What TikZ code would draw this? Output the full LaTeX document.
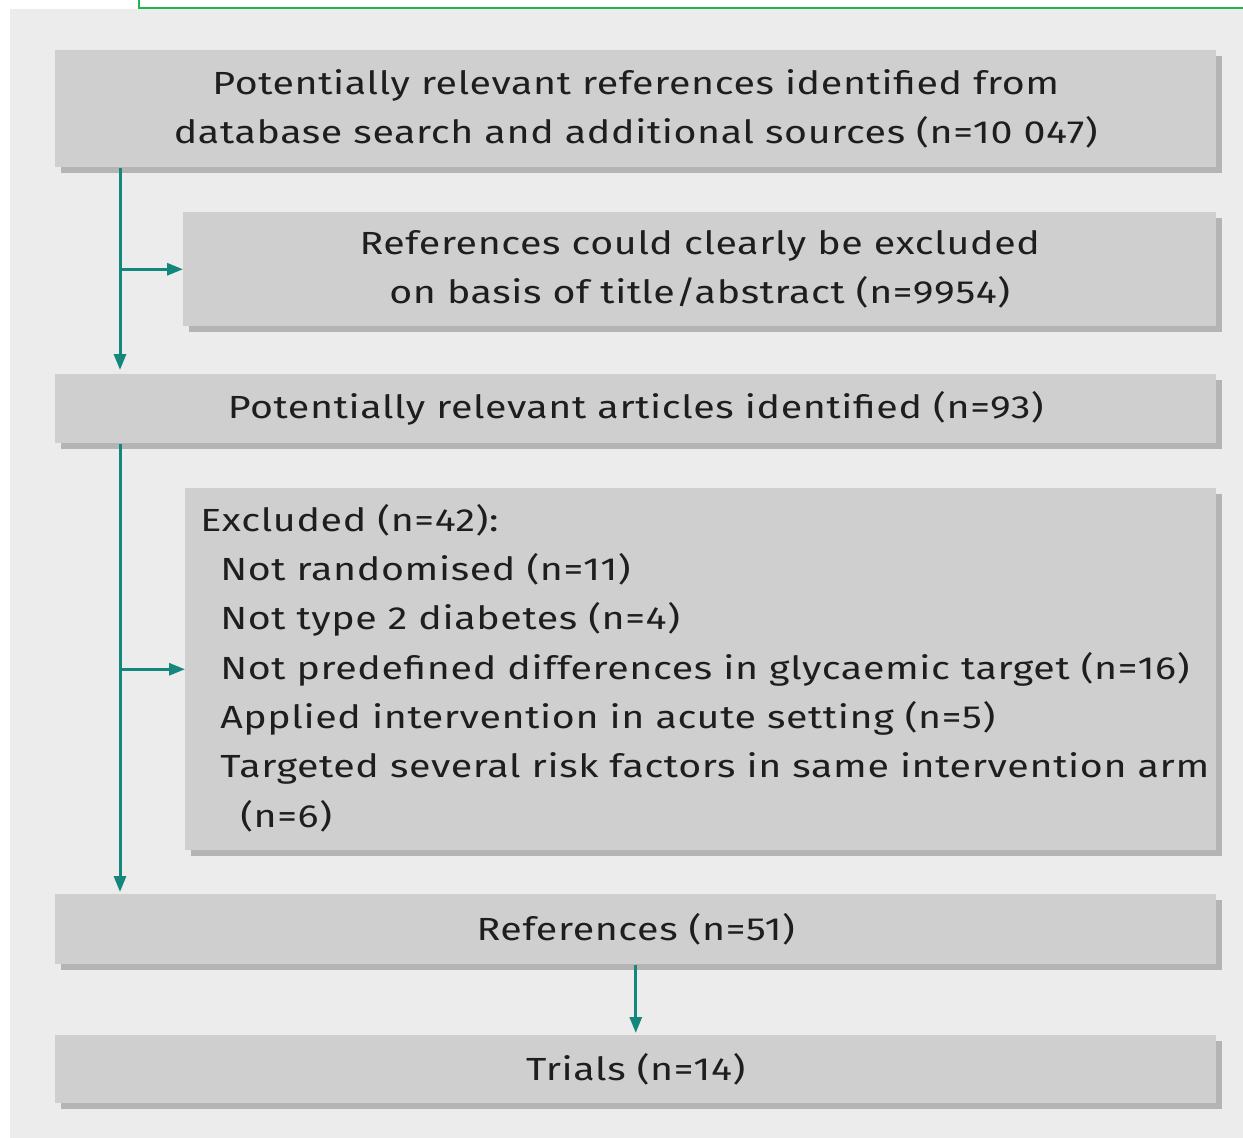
\documentclass[tikz,border=0pt]{standalone}
\usepackage{fontspec}
\setmainfont[FakeStretch=1.23,LetterSpace=2]{Fira Sans}
\usetikzlibrary{arrows.meta,shadows}
\definecolor{panel}{HTML}{ECECEC}
\definecolor{boxgray}{HTML}{CFCFCF}
\definecolor{shadowgray}{HTML}{B4B4B4}
\definecolor{tealc}{RGB}{20,135,125}
\definecolor{greenline}{RGB}{30,180,80}
\definecolor{txt}{HTML}{1E1E1E}
\tikzset{
  box/.style={draw=none, fill=boxgray, inner sep=0pt, anchor=north west, text=txt,
    font=\fontsize{24}{37}\selectfont, align=center,
    general shadow={fill=shadowgray, shadow xshift=4.5pt, shadow yshift=-4.5pt}},
  boxtext/.style={inner sep=0pt, text=txt, font=\fontsize{24}{37}\selectfont, align=left},
  flow/.style={draw=tealc, line width=2.25pt},
  flowarrow/.style={flow, -{Triangle[length=12pt,width=9pt]}},
}
\begin{document}
\begin{tikzpicture}[x=0.75pt,y=-0.75pt]
\useasboundingbox (0,0) rectangle (1243,1138);
\fill[white] (0,0) rectangle (1243,1138);
\fill[panel] (10,9) rectangle (1243,1138);
\draw[greenline, line width=1.5pt] (139,0) -- (139,8) -- (1243,8);

\node[box, minimum width=870.75pt, minimum height=87.75pt] (b1) at (55,50)
  {Potentially relevant references identified from\\database search and additional sources (n=10 047)};
\node[box, minimum width=774.75pt, minimum height=85.5pt] (b2) at (183,212)
  {References could clearly be excluded\\on basis of title/abstract (n=9954)};
\node[box, minimum width=870.75pt, minimum height=51.75pt] (b3) at (55,374)
  {Potentially relevant articles identified (n=93)};
\node[box, minimum width=773.25pt, minimum height=271.5pt] (b4) at (185,488) {};
\node[boxtext, anchor=west] (t4) at (200,668)
  {Excluded (n=42):\\
   \hspace*{15pt}Not randomised (n=11)\\
   \hspace*{15pt}Not type 2 diabetes (n=4)\\
   \hspace*{15pt}Not predefined differences in glycaemic target (n=16)\\
   \hspace*{15pt}Applied intervention in acute setting (n=5)\\
   \hspace*{15pt}Targeted several risk factors in same intervention arm\\
   \hspace*{30pt}(n=6)};
\node[box, minimum width=870.75pt, minimum height=52.5pt] (b5) at (55,894)
  {References (n=51)};
\node[box, minimum width=870.75pt, minimum height=51pt] (b6) at (55,1035)
  {Trials (n=14)};

\coordinate (c1) at (120,0);
\coordinate (j1) at (c1 |- b2.west);
\coordinate (j2) at (c1 |- b4.west);
\draw[flowarrow, shorten >=3pt] (b1.south -| c1) -- (b3.north -| c1);
\draw[flowarrow] (j1) -- (b2.west);
\draw[flowarrow, shorten >=1.5pt] (b3.south -| c1) -- (b5.north -| c1);
\draw[flowarrow] (j2) -- (b4.west);
\draw[flowarrow, shorten >=1.5pt] (b5.south) -- (b6.north);
\end{tikzpicture}
\end{document}
